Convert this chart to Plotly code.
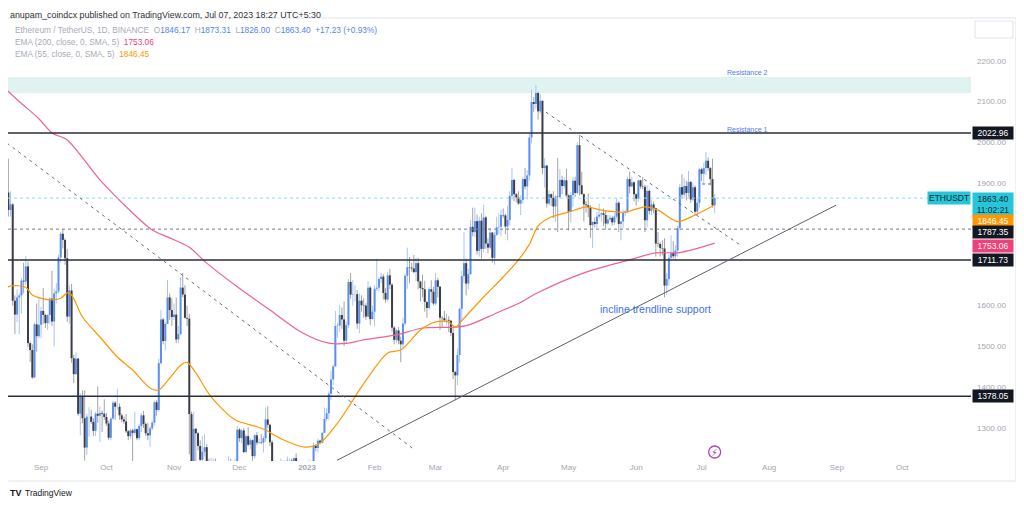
import pandas as pd
import plotly.graph_objects as go

FONT = 'Liberation Sans, Arial, sans-serif'

# ETH/USDT daily candles (Binance), 2022-08-15 .. 2023-07-07
first_open = 1935
close = [
    1899, 1877, 1834, 1848, 1612, 1578, 1620, 1625, 1661, 1659, 1696, 1508, 1491, 1424, 1554, 1525, 1553,  # Aug
    1587, 1577, 1557, 1577, 1617, 1561, 1630, 1635, 1718, 1776, 1761, 1716, 1573, 1637, 1471,
    1432, 1470, 1335, 1377, 1324, 1252, 1328, 1328, 1315, 1293, 1335, 1330, 1337, 1335, 1327,  # Sep
    1311, 1276, 1323, 1362, 1352, 1352, 1331, 1321, 1316, 1292, 1280, 1294, 1288, 1297, 1275,
    1305, 1331, 1310, 1287, 1282, 1299, 1313, 1363, 1344, 1459, 1566, 1513, 1555, 1620, 1589, 1572,  # Oct
    1578, 1517, 1530, 1644, 1627, 1570, 1568, 1334, 1100, 1298, 1287, 1256, 1222, 1242, 1253,
    1215, 1200, 1212, 1218, 1142, 1107, 1134, 1184, 1204, 1200, 1207, 1195, 1168, 1217, 1296,  # Nov
    1275, 1294, 1241, 1280, 1259, 1270, 1231, 1282, 1264, 1265, 1264, 1275, 1321, 1308, 1265,
    1165, 1186, 1186, 1168, 1216, 1211, 1218, 1220, 1220, 1218, 1226, 1212, 1190, 1201, 1199, 1196,  # Dec
    1200, 1214, 1214, 1256, 1251, 1269, 1264, 1288, 1322, 1336, 1384, 1419, 1451, 1550, 1551,
    1577, 1566, 1514, 1552, 1658, 1627, 1628, 1628, 1556, 1612, 1601, 1600, 1573, 1644, 1567, 1585,  # Jan
    1641, 1644, 1665, 1671, 1631, 1615, 1674, 1651, 1546, 1516, 1539, 1514, 1505, 1556,
    1673, 1694, 1693, 1691, 1682, 1704, 1659, 1643, 1640, 1609, 1594, 1640, 1634, 1605,  # Feb
    1662, 1646, 1570, 1569, 1564, 1565, 1563, 1533, 1437, 1429, 1479, 1592, 1672, 1704, 1654,
    1677, 1793, 1780, 1807, 1734, 1808, 1739, 1816, 1752, 1742, 1779, 1717, 1773, 1792, 1793, 1822,  # Mar
    1821, 1794, 1810, 1869, 1908, 1873, 1865, 1850, 1859, 1910, 1892, 1919, 2012, 2099, 2094,
    2121, 2076, 2102, 1937, 1943, 1850, 1873, 1864, 1843, 1867, 1866, 1908, 1893, 1907, 1870,  # Apr
    1830, 1871, 1906, 1876, 1993, 1895, 1873, 1848, 1846, 1841, 1797, 1805, 1800, 1818, 1823,
    1826, 1822, 1801, 1811, 1815, 1804, 1818, 1852, 1800, 1806, 1827, 1830, 1910, 1892, 1902, 1873,  # May
    1862, 1907, 1892, 1891, 1809, 1881, 1832, 1848, 1839, 1752, 1751, 1741, 1740, 1649, 1665,
    1717, 1729, 1721, 1735, 1790, 1890, 1872, 1893, 1876, 1903, 1860, 1890, 1830, 1852, 1934,  # Jun
    1923, 1937, 1955, 1937, 1910, 1846.17, 1863.40,  # Jul
]
high = [
    1960, 1914, 1960, 1880, 1851, 1625, 1640, 1630, 1668, 1705, 1722, 1708, 1512, 1505, 1558, 1605, 1620,
    1597, 1643, 1580, 1578, 1620, 1685, 1640, 1655, 1725, 1780, 1788, 1765, 1739, 1650, 1653,
    1479, 1485, 1472, 1385, 1392, 1392, 1335, 1351, 1345, 1324, 1340, 1402, 1352, 1343, 1370,
    1337, 1318, 1327, 1366, 1366, 1396, 1360, 1336, 1328, 1334, 1295, 1298, 1298, 1340, 1299,
    1310, 1337, 1342, 1314, 1312, 1304, 1318, 1366, 1368, 1470, 1590, 1570, 1560, 1663, 1630, 1618,
    1605, 1620, 1550, 1670, 1680, 1650, 1600, 1580, 1340, 1340, 1300, 1290, 1270, 1280, 1285,
    1260, 1225, 1227, 1225, 1225, 1147, 1135, 1190, 1220, 1206, 1230, 1225, 1198, 1225, 1305,
    1300, 1297, 1300, 1285, 1302, 1275, 1272, 1285, 1290, 1275, 1285, 1280, 1350, 1353, 1310,
    1270, 1192, 1190, 1192, 1225, 1220, 1220, 1230, 1225, 1225, 1228, 1238, 1215, 1207, 1202, 1210,
    1203, 1223, 1220, 1264, 1259, 1274, 1271, 1290, 1350, 1348, 1390, 1440, 1456, 1587, 1557,
    1601, 1595, 1610, 1560, 1665, 1680, 1663, 1650, 1638, 1630, 1625, 1618, 1606, 1660, 1648, 1600,
    1650, 1715, 1670, 1680, 1677, 1643, 1683, 1690, 1655, 1550, 1542, 1547, 1524, 1570,
    1678, 1742, 1719, 1705, 1724, 1716, 1717, 1661, 1676, 1661, 1610, 1645, 1662, 1646,
    1680, 1668, 1648, 1575, 1587, 1580, 1574, 1565, 1545, 1440, 1495, 1595, 1685, 1780, 1715,
    1690, 1810, 1840, 1840, 1823, 1818, 1826, 1847, 1820, 1765, 1790, 1780, 1780, 1818, 1826, 1834,
    1838, 1825, 1845, 1880, 1937, 1910, 1876, 1880, 1870, 1915, 1937, 1932, 2022, 2130, 2111,
    2140, 2125, 2119, 2102, 1961, 1945, 1882, 1875, 1880, 1870, 1962, 1935, 1918, 1914, 1935,
    1873, 1877, 1915, 1916, 2000, 2018, 1928, 1875, 1856, 1875, 1846, 1806, 1816, 1830, 1850,
    1830, 1838, 1833, 1822, 1822, 1819, 1826, 1862, 1856, 1807, 1835, 1835, 1916, 1928, 1916, 1905,
    1875, 1908, 1908, 1915, 1896, 1895, 1885, 1860, 1855, 1840, 1780, 1755, 1760, 1765, 1680,
    1725, 1772, 1758, 1748, 1795, 1898, 1922, 1912, 1906, 1930, 1905, 1900, 1895, 1865, 1937,
    1938, 1950, 1976, 1963, 1940, 1960, 1873.31,
]
low = [
    1876, 1852, 1818, 1818, 1600, 1530, 1560, 1530, 1580, 1630, 1650, 1498, 1462, 1420, 1422, 1487, 1520,
    1520, 1555, 1545, 1540, 1555, 1550, 1500, 1605, 1630, 1705, 1740, 1700, 1560, 1555, 1460,
    1410, 1430, 1330, 1282, 1312, 1220, 1234, 1278, 1310, 1280, 1280, 1313, 1265, 1290, 1320,
    1305, 1270, 1270, 1320, 1320, 1345, 1320, 1314, 1310, 1288, 1270, 1274, 1190, 1283, 1270,
    1270, 1290, 1300, 1280, 1270, 1254, 1295, 1306, 1330, 1340, 1455, 1505, 1490, 1555, 1565, 1550,
    1565, 1508, 1508, 1527, 1620, 1568, 1550, 1235, 1073, 1090, 1215, 1245, 1210, 1170, 1230,
    1196, 1180, 1195, 1205, 1140, 1075, 1080, 1130, 1180, 1180, 1195, 1192, 1150, 1160, 1215,
    1266, 1262, 1238, 1239, 1255, 1248, 1220, 1225, 1258, 1260, 1260, 1240, 1266, 1300, 1255,
    1160, 1160, 1175, 1160, 1165, 1200, 1195, 1210, 1217, 1205, 1212, 1200, 1185, 1187, 1192, 1194,
    1192, 1192, 1205, 1212, 1243, 1240, 1260, 1262, 1288, 1316, 1320, 1368, 1405, 1450, 1521,
    1536, 1543, 1501, 1506, 1545, 1617, 1600, 1610, 1543, 1532, 1585, 1570, 1565, 1571, 1552, 1565,
    1549, 1636, 1635, 1655, 1615, 1607, 1610, 1640, 1536, 1505, 1508, 1505, 1461, 1495,
    1550, 1641, 1655, 1683, 1680, 1660, 1640, 1610, 1620, 1585, 1570, 1590, 1607, 1600,
    1600, 1620, 1540, 1548, 1560, 1553, 1535, 1525, 1420, 1368, 1405, 1460, 1565, 1655, 1625,
    1640, 1675, 1770, 1768, 1725, 1720, 1715, 1730, 1739, 1728, 1738, 1705, 1700, 1771, 1775, 1770,
    1815, 1775, 1760, 1797, 1860, 1856, 1853, 1847, 1822, 1850, 1885, 1860, 1906, 1997, 2075,
    2082, 2056, 2071, 1922, 1889, 1840, 1845, 1844, 1814, 1805, 1780, 1862, 1873, 1887, 1866,
    1784, 1803, 1842, 1866, 1872, 1870, 1872, 1806, 1828, 1817, 1766, 1741, 1792, 1790, 1813,
    1806, 1795, 1786, 1798, 1806, 1796, 1797, 1813, 1780, 1760, 1790, 1820, 1826, 1875, 1890, 1855,
    1845, 1855, 1886, 1885, 1780, 1792, 1823, 1822, 1826, 1720, 1743, 1720, 1723, 1620, 1626,
    1649, 1713, 1715, 1709, 1720, 1785, 1862, 1862, 1858, 1866, 1852, 1855, 1820, 1823, 1840,
    1905, 1900, 1920, 1930, 1895, 1840, 1826.00,
]
dates = pd.date_range('2022-08-15', '2023-07-07', freq='D')
# a daily candle opens where the previous one closed
opens = [first_open] + close[:-1]

# EMA lines, sampled off the chart
ema200_dates = ['2022-08-14', '2022-08-22', '2022-08-31', '2022-09-06', '2022-09-13', '2022-09-28',
                '2022-10-13', '2022-10-22', '2022-10-30', '2022-11-08', '2022-11-16', '2022-11-30',
                '2022-12-15', '2022-12-30', '2023-01-11', '2023-01-20', '2023-01-26', '2023-02-11',
                '2023-02-23', '2023-03-10', '2023-03-16', '2023-03-29', '2023-04-08', '2023-04-17',
                '2023-05-09', '2023-05-29', '2023-06-10', '2023-06-21', '2023-07-07']
ema200 = [2140, 2100, 2058, 2023, 2006, 1908, 1827, 1785, 1766, 1743, 1704, 1646, 1589, 1533, 1508,
          1508, 1515, 1528, 1545, 1547, 1552, 1582, 1605, 1632, 1682, 1712, 1729, 1730, 1753.06]

ema55_dates = ['2022-08-14', '2022-08-18', '2022-08-25', '2022-08-28', '2022-09-05', '2022-09-10',
               '2022-09-13', '2022-09-15', '2022-09-20', '2022-09-28', '2022-10-06', '2022-10-13',
               '2022-10-21', '2022-10-25', '2022-10-30', '2022-11-04', '2022-11-07', '2022-11-11',
               '2022-11-18', '2022-11-29', '2022-12-09', '2022-12-13', '2022-12-21', '2022-12-31',
               '2023-01-07', '2023-01-15', '2023-01-20', '2023-01-25', '2023-02-07', '2023-02-13',
               '2023-02-22', '2023-03-01', '2023-03-07', '2023-03-10', '2023-03-14', '2023-03-23',
               '2023-04-01', '2023-04-08', '2023-04-13', '2023-04-17', '2023-04-23', '2023-05-01',
               '2023-05-09', '2023-05-16', '2023-05-27', '2023-06-05', '2023-06-11', '2023-06-20',
               '2023-06-28', '2023-07-07']
ema55 = [1636, 1648, 1645, 1626, 1614, 1618, 1631, 1626, 1572, 1523, 1474, 1442, 1398, 1393, 1422,
         1454, 1461, 1435, 1376, 1320, 1303, 1295, 1271, 1253, 1263, 1312, 1351, 1393, 1484, 1491,
         1540, 1560, 1560, 1547, 1569, 1621, 1670, 1712, 1750, 1795, 1817, 1829, 1842, 1834, 1829,
         1842, 1834, 1806, 1822, 1846.45]

# horizontal levels drawn on the chart
levels = [2022.96, 1711.73, 1378.05]
dashed_level = 1787.35
last_price = 1863.40
resistance2_zone = [2121, 2160]

# trend lines: (start date, start price, end date, end price)
falling_1 = ('2022-08-16 10:00', 1998, '2023-02-19 12:00', 1246)
falling_2 = ('2023-04-20 14:00', 2074, '2023-07-18 14:00', 1749)
rising = ('2023-01-14 19:00', 1221, '2023-08-31 16:00', 1846)
small_ray = ('2023-07-01 05:00', 1898, '2023-07-06 05:00', 1898)

month_ticks = pd.date_range('2022-09-01', '2023-10-01', freq='MS')
month_labels = ['Sep', 'Oct', 'Nov', 'Dec', '<b>2023</b>', 'Feb', 'Mar', 'Apr', 'May', 'Jun',
                'Jul', 'Aug', 'Sep', 'Oct']
# 1700 and 1800 sit under the price tags on the scale
price_ticks = [1300, 1400, 1500, 1600, 1900, 2000, 2100, 2200]


def segments(idx, lo, hi):
    xs, ys = [], []
    for i in idx:
        xs += [dates[i], dates[i], None]
        ys += [lo[i], hi[i], None]
    return xs, ys


def price_tag(text, y, bg, fg='white', yshift=0, yanchor='middle'):
    return dict(xref='paper', yref='y', x=1, y=y, xanchor='left', yanchor=yanchor,
                xshift=1, yshift=yshift, text=text, showarrow=False, bgcolor=bg,
                font=dict(family=FONT, size=8.5, color=fg), borderpad=1, width=38, align='center')


def note(text, x, y, size, color, xref='paper', family=FONT, xanchor='center', yanchor='middle'):
    return dict(xref=xref, yref='paper', x=x, y=y, xanchor=xanchor, yanchor=yanchor, text=text,
                showarrow=False, font=dict(family=family, size=size, color=color))


n = len(close)
assert len(high) == n and len(low) == n and len(dates) == n
up = [i for i in range(n) if close[i] >= opens[i]]
down = [i for i in range(n) if close[i] < opens[i]]
body_lo = [min(o, c) for o, c in zip(opens, close)]
body_hi = [max(o, c) for o, c in zip(opens, close)]

styles = [(up, '#a9c5f8', '#5b8ef0'), (down, '#a3a3a3', '#3b3e46')]
fig = go.Figure()
for idx, wick_col, body_col in styles:
    xs, ys = segments(idx, low, high)
    fig.add_trace(go.Scatter(x=xs, y=ys, mode='lines', line=dict(color=wick_col, width=1),
                             hoverinfo='skip', showlegend=False))
for idx, wick_col, body_col in styles:
    xs, ys = segments(idx, body_lo, body_hi)
    fig.add_trace(go.Scatter(x=xs, y=ys, mode='lines', line=dict(color=body_col, width=2),
                             hoverinfo='skip', showlegend=False))

fig.add_trace(go.Scatter(x=ema200_dates, y=ema200, mode='lines',
                         line=dict(color='#f06292', width=1.2, shape='spline', smoothing=0.8),
                         showlegend=False))
fig.add_trace(go.Scatter(x=ema55_dates, y=ema55, mode='lines',
                         line=dict(color='#ff9800', width=1.2, shape='spline', smoothing=0.8),
                         showlegend=False))

shapes = []
shapes.append(dict(type='rect', xref='paper', yref='y', x0=0, x1=1,
                   y0=resistance2_zone[0], y1=resistance2_zone[1],
                   fillcolor='#dff3f1', line=dict(width=0), layer='below'))
for lv in levels:
    shapes.append(dict(type='line', xref='paper', yref='y', x0=0, x1=1, y0=lv, y1=lv,
                       line=dict(color='#2a2e39', width=1.5)))
shapes.append(dict(type='line', xref='paper', yref='y', x0=0, x1=1, y0=dashed_level, y1=dashed_level,
                   line=dict(color='#787b86', width=1, dash='3px,3px')))
shapes.append(dict(type='line', xref='paper', yref='y', x0=0, x1=1, y0=last_price, y1=last_price,
                   line=dict(color='#8fdde8', width=1, dash='dot')))
for tl, col, dash in [(falling_1, '#6a6d78', '3px,4px'), (falling_2, '#6a6d78', '3px,4px'),
                      (rising, '#5d606b', 'solid'), (small_ray, '#6a6d78', '3px,3px')]:
    shapes.append(dict(type='line', xref='x', yref='y', x0=tl[0], y0=tl[1], x1=tl[2], y1=tl[3],
                       line=dict(color=col, width=1, dash=dash)))
# outer frame round plot, price scale and time scale
shapes.append(dict(type='rect', xref='paper', yref='paper', x0=-0.001, x1=1.0467, y0=-0.0451, y1=1,
                   line=dict(color='#e0e3eb', width=1), fillcolor='rgba(0,0,0,0)'))
shapes.append(dict(type='rect', xref='paper', yref='paper', x0=1.0042, x1=1.0436, y0=0.9549, y1=0.9932,
                   line=dict(color='#e0e3eb', width=1), fillcolor='white'))
# event marker
shapes.append(dict(type='circle', xref='x', yref='paper', xsizemode='pixel', ysizemode='pixel',
                   xanchor='2023-07-07', yanchor=0.0203, x0=-6, x1=6, y0=-6, y1=6,
                   line=dict(color='#ab47bc', width=1.3)))

ann = []
ann.append(note('anupam_coindcx published on TradingView.com, Jul 07, 2023 18:27 UTC+5:30',
                0, 1.0226, 8.9, '#333333', xanchor='left', yanchor='top'))
gray = '#a8abb4'
blue = '#4f86f0'
legend_1 = (f"<span style='color:{gray}'>Ethereum / TetherUS, 1D, BINANCE</span>  "
            f"<span style='color:{gray}'>O</span><span style='color:{blue}'>1846.17</span>  "
            f"<span style='color:{gray}'>H</span><span style='color:{blue}'>1873.31</span>  "
            f"<span style='color:{gray}'>L</span><span style='color:{blue}'>1826.00</span>  "
            f"<span style='color:{gray}'>C</span><span style='color:{blue}'>1863.40</span>  "
            f"<span style='color:{blue}'>+17.23 (+0.93%)</span>")
legend_2 = f"<span style='color:{gray}'>EMA (200, close, 0, SMA, 5)</span>  <span style='color:#f0407a'>1753.06</span>"
legend_3 = f"<span style='color:{gray}'>EMA (55, close, 0, SMA, 5)</span>  <span style='color:#ff9800'>1846.45</span>"
for txt, yp in [(legend_1, 0.9729), (legend_2, 0.9458), (legend_3, 0.9187)]:
    ann.append(note(txt, 0.0052, yp, 8.3, gray, xanchor='left'))

ann.append(note('Resistance 2', 0.7674, 0.878, 7, '#5078f2'))
ann.append(note('Resistance 1', 0.7684, 0.7494, 7, '#5078f2'))
ann.append(note('incline trendline support', 0.6719, 0.343, 10.5, '#3f6ff0'))
ann.append(note('⚡', '2023-07-07', 0.0203, 10, '#ab47bc', xref='x', family='DejaVu Sans'))

# price scale tags
ann.append(dict(xref='paper', yref='y', x=1, y=last_price, xanchor='right', yanchor='middle',
                text='ETHUSDT', showarrow=False, bgcolor='#26c6da', borderpad=1,
                font=dict(family=FONT, size=8.5, color='#10262b')))
ann.append(price_tag('1863.40<br>11:02:21', last_price, '#26c6da', fg='#10262b', yanchor='top', yshift=6))
ann.append(price_tag('2022.96', 2022.96, '#131722'))
ann.append(price_tag('1846.45', 1846.45, '#ff9800', yshift=-16))
ann.append(price_tag('1787.35', 1787.35, '#131722', yshift=-3))
ann.append(price_tag('1753.06', 1753.06, '#f0407a', yshift=-3))
ann.append(price_tag('1711.73', 1711.73, '#131722'))
ann.append(price_tag('1378.05', 1378.05, '#131722'))

ann.append(note('<b>TV</b>', 0, -0.0722, 9, '#131722', xanchor='left'))
ann.append(note('TradingView', 0.0156, -0.0722, 8.5, '#131722', xanchor='left'))

# the page adds an 8px body margin, so the figure is 8px smaller than the window
fig.update_layout(
    width=1016, height=498, autosize=False,
    margin=dict(l=0, r=53, t=10, b=45),
    paper_bgcolor='white', plot_bgcolor='white',
    showlegend=False, hovermode=False,
    shapes=shapes, annotations=ann,
    xaxis=dict(type='date', range=['2022-08-16 20:00', '2023-11-01 14:00'],
               tickvals=month_ticks, ticktext=month_labels, showgrid=False, zeroline=False,
               showline=False, ticks='', tickfont=dict(family=FONT, size=8, color='#a3a6af'),
               rangeslider=dict(visible=False)),
    yaxis=dict(side='right', range=[1219.1, 2304.8], tickvals=price_ticks,
               ticktext=[f'{v:.2f}' for v in price_ticks], showgrid=False, zeroline=False,
               showline=False, ticks='', tickfont=dict(family=FONT, size=8, color='#a3a6af'),
               ticklabelstandoff=5),
)

fig.write_html("out.html")
